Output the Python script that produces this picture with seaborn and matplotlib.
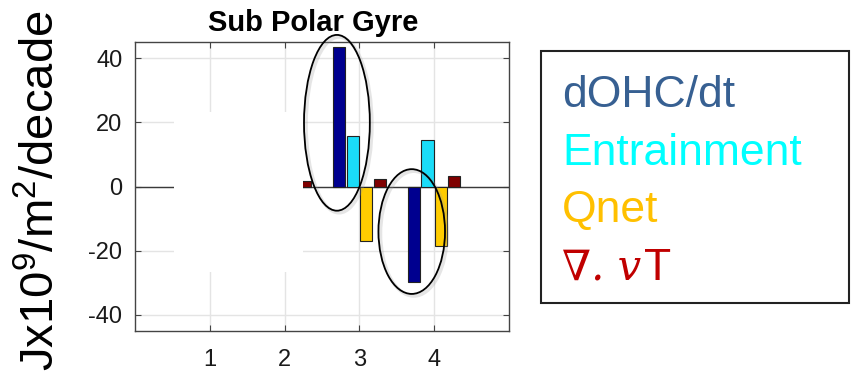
import numpy as np
import pandas as pd
import matplotlib
matplotlib.use("Agg")
import matplotlib.pyplot as plt
import matplotlib.patheffects as pe
import seaborn as sns
from matplotlib.patches import Ellipse, Rectangle

# Heat budget terms per region (values hidden behind the mask left as NaN)
regions = [1, 2, 3, 4]
series = ["dOHC/dt", "Entrainment", "Qnet", "Div vT"]
dohc_dt = [np.nan, np.nan, 43.4, -29.6]
entrainment = [np.nan, np.nan, 15.8, 14.4]
qnet = [np.nan, np.nan, -17.0, -18.4]
div_vt = [np.nan, 1.9, 2.4, 3.2]

bar_colors = ["#00008F", "#1ADCF8", "#FFCC00", "#7F0000"]
legend_labels = ["dOHC/dt", "Entrainment", "Qnet"]
legend_colors = ["#376092", "#00FFFF", "#FFC000", "#C00000"]
flux_symbol = "\u2207. v"
flux_suffix = "T"
yticks = [-40, -20, 0, 20, 40]
title = "Sub Polar Gyre"
ylabel = r"Jx10$^{9}$/m$^{2}$/decade"

sns.set_theme(style="white")
plt.rcParams["font.family"] = ["Liberation Sans", "DejaVu Sans"]
plt.rcParams["mathtext.fontset"] = "custom"
plt.rcParams["mathtext.rm"] = "Liberation Sans"
plt.rcParams["mathtext.it"] = "Liberation Sans:italic"
plt.rcParams["axes.unicode_minus"] = False
plt.rcParams["text.color"] = "black"

df = pd.DataFrame({
    "region": np.repeat(regions, len(series)),
    "term": series * len(regions),
    "value": np.column_stack([dohc_dt, entrainment, qnet, div_vt]).ravel(),
}).dropna()

fig = plt.figure(figsize=(8.54, 3.79), dpi=100)
ax = fig.add_axes([0.158, 0.1267, 0.438, 0.7617])

ax.axhline(0, color="#3a3a3a", lw=1.0, zorder=1.5)
sns.barplot(data=df, x="region", y="value", hue="term", hue_order=series,
            palette=bar_colors, saturation=1, native_scale=True, orient="x",
            width=0.72, gap=0.1, dodge=True, edgecolor="#222222",
            linewidth=0.8, legend=False, ax=ax, zorder=2)

ax.set_xlim(0, 5)
ax.set_ylim(-45, 45)
ax.set_xticks(regions)
ax.set_xticklabels([str(r) for r in regions])
ax.set_yticks(yticks)
ax.set_xlabel("")
ax.set_ylabel("")
ax.grid(True, color="#e4e4e4", lw=1.0)
ax.set_axisbelow(True)
ax.tick_params(axis="both", direction="in", length=4, width=0.8,
               color="#444444", labelsize=17, labelcolor="#1a1a1a",
               top=True, right=True, bottom=True, left=True)
ax.tick_params(axis="y", pad=9)
ax.tick_params(axis="x", pad=13)
for s in ax.spines.values():
    s.set_color("#444444")
    s.set_linewidth(1.0)

# white mask over the left part of the plot area
ax.add_patch(Rectangle((0.52, -26.7), 1.73, 50.0, facecolor="white",
                       edgecolor="none", zorder=5))

# highlight ellipses with a soft shadow
shadow = [pe.SimpleLineShadow(offset=(1.5, -1.5), shadow_color="#999999",
                              alpha=0.25, linewidth=2.5), pe.Normal()]
ax.add_patch(Ellipse((2.70, 19.9), 0.88, 54.8, fill=False, edgecolor="black",
                     lw=1.3, zorder=6, clip_on=False, path_effects=shadow))
ax.add_patch(Ellipse((3.70, -14.0), 0.89, 38.9, fill=False, edgecolor="black",
                     lw=1.3, zorder=6, clip_on=False, path_effects=shadow))

ax.set_title(title, fontsize=21, fontweight="bold", x=0.477, pad=8,
             color="black")

fig.text(0.049, 0.497, ylabel, rotation=90, fontsize=34, ha="center",
         va="center", color="black")

# legend box with coloured labels
fig.add_artist(Rectangle((0.6335, 0.2005), 0.3605, 0.665,
                         transform=fig.transFigure, fill=False,
                         edgecolor="#222222", lw=1.5))
baselines = [107, 165, 222, 280]
for lab, col, b in zip(legend_labels, legend_colors, baselines):
    fig.text(562 / 854, 1 - b / 379, lab, color=col, fontsize=32,
             ha="left", va="baseline")

sym = fig.text(562 / 854, 1 - baselines[3] / 379, flux_symbol,
               color=legend_colors[3], fontsize=30, ha="left", va="baseline",
               family=["DejaVu Serif"], style="italic")
fig.canvas.draw()
bb = sym.get_window_extent()
fig.text((bb.x1 + 3) / fig.bbox.width, 1 - baselines[3] / 379, flux_suffix,
         color=legend_colors[3], fontsize=32, ha="left", va="baseline")

fig.savefig("out.png", dpi=100)
